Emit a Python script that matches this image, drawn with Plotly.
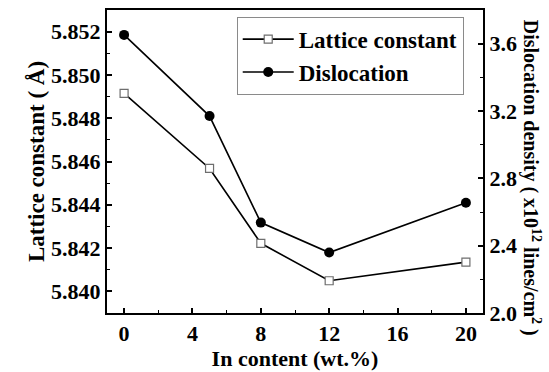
import plotly.graph_objects as go

# In content (wt.%)
in_content = [0, 5, 8, 12, 20]
# Lattice constant (Å)
lattice_constant = [5.84915, 5.84568, 5.84222, 5.84049, 5.84135]
# Dislocation density (x10^12 lines/cm^2)
dislocation = [3.652, 3.170, 2.537, 2.359, 2.655]

x_ticks = [0, 4, 8, 12, 16, 20]
left_ticks = [5.840, 5.842, 5.844, 5.846, 5.848, 5.850, 5.852]
right_ticks = [2.0, 2.4, 2.8, 3.2, 3.6]

FONT = "Liberation Serif"


def bold(size):
    return dict(family=FONT, size=size, color="black", weight="bold")


fig = go.Figure()

fig.add_trace(go.Scatter(
    x=in_content, y=lattice_constant, name="Lattice constant",
    mode="lines+markers",
    line=dict(color="black", width=1.6),
    marker=dict(symbol="square", size=8, color="white",
                line=dict(color="#6e6e6e", width=1.2)),
    yaxis="y",
))
fig.add_trace(go.Scatter(
    x=in_content, y=dislocation, name="Dislocation",
    mode="lines+markers",
    line=dict(color="black", width=1.6),
    marker=dict(symbol="circle", size=10, color="black"),
    yaxis="y2",
))

fig.update_layout(
    width=549, height=372,
    margin=dict(l=107, r=66, t=10, b=59, autoexpand=False),
    paper_bgcolor="white", plot_bgcolor="white",
    font=bold(22),
    showlegend=True,
    legend=dict(
        x=0.345, y=0.978, xanchor="left", yanchor="top",
        bgcolor="white", bordercolor="#8a8a8a", borderwidth=1,
        font=bold(23),
        tracegroupgap=0, itemwidth=51,
    ),
    xaxis=dict(
        range=[-1, 21], tickvals=x_ticks, automargin=False,
        ticks="inside", ticklen=5, tickwidth=1.5, tickcolor="black",
        minor=dict(dtick=2, tick0=0, ticks="inside", ticklen=3, tickwidth=1.2, tickcolor="black"),
        showline=True, linecolor="black", linewidth=2, mirror=True,
        showgrid=False, zeroline=False,
        tickfont=bold(22),
        title=dict(text="In content (wt.%)", standoff=5, font=bold(22)),
    ),
    yaxis=dict(
        range=[5.839, 5.853], tickvals=left_ticks, tickformat=".3f", automargin=False,
        ticks="inside", ticklen=5, tickwidth=1.5, tickcolor="black",
        minor=dict(dtick=0.001, tick0=5.840, ticks="inside", ticklen=3, tickwidth=1.2, tickcolor="black"),
        showline=True, linecolor="black", linewidth=2,
        showgrid=False, zeroline=False,
        tickfont=bold(22),
        title=dict(text="Lattice constant ( Å)", standoff=0, font=bold(23)),
    ),
    yaxis2=dict(
        range=[2.0, 3.8], tickvals=right_ticks, tickformat=".1f", automargin=False,
        overlaying="y", side="right",
        ticks="inside", ticklen=5, tickwidth=1.5, tickcolor="black",
        minor=dict(dtick=0.2, tick0=2.0, ticks="inside", ticklen=3, tickwidth=1.2, tickcolor="black"),
        showline=True, linecolor="black", linewidth=2,
        showgrid=False, zeroline=False,
        tickfont=bold(22),
    ),
    annotations=[dict(
        text="Dislocation density ( x10<sup>12</sup> lines/cm<sup>2</sup> )",
        xref="paper", yref="paper", x=1.128, y=0.446,
        xanchor="center", yanchor="middle", textangle=90, showarrow=False,
        font=bold(20),
    )],
)

fig.write_html("out.html")
